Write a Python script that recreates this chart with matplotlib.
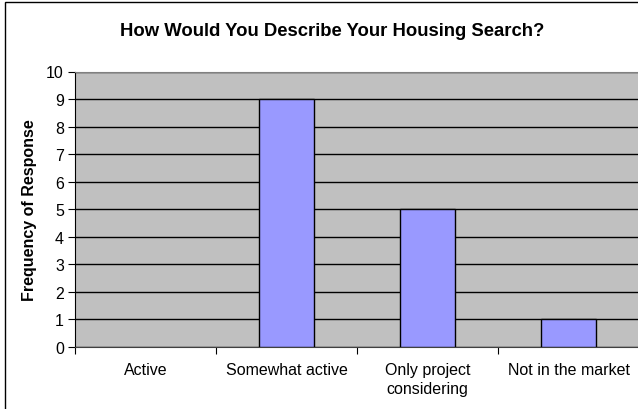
import matplotlib
matplotlib.use("Agg")
import matplotlib.pyplot as plt
from matplotlib.patches import Rectangle
import numpy as np

categories = ["Active", "Somewhat active", "Only project\nconsidering", "Not in the market"]
counts = [0, 9, 5, 1]
y_ticks = list(range(0, 11))

plt.rcParams['font.family'] = ['Liberation Sans', 'DejaVu Sans']

fig = plt.figure(figsize=(6.38, 4.10), dpi=100)
ax = fig.add_axes([75 / 638, 1 - 348 / 410, 564 / 638, (348 - 72.5) / 410])

x = np.arange(len(categories))
ax.set_facecolor("#C0C0C0")
ax.yaxis.grid(True, color="black", linewidth=1)
ax.set_axisbelow(True)
bars = ax.bar(x, counts, width=0.39, color="#9999FF", edgecolor="black", linewidth=1, zorder=3)
# Excel draws nothing for an empty bar
for bar, c in zip(bars, counts):
    if c == 0:
        bar.set_linewidth(0)

ax.set_xlim(-0.5, len(categories) - 0.5)
ax.set_ylim(0, 10)
ax.set_yticks(y_ticks)
ax.set_yticklabels([str(v) for v in y_ticks], fontsize=11.5)
ax.set_xticks(np.arange(len(categories) + 1) - 0.5)
ax.set_xticklabels([])
ax.set_xticks(x, minor=True)
ax.set_xticklabels(categories, minor=True, fontsize=11.5, linespacing=1.3)
ax.tick_params(axis="x", which="minor", length=0, pad=11)
ax.tick_params(axis="x", which="major", length=5, direction="out", color="black")
ax.tick_params(axis="y", length=5, direction="out", color="black", pad=3)

for side in ["top", "right"]:
    ax.spines[side].set_color("#808080")
ax.spines["left"].set_color("black")
ax.spines["bottom"].set_color("#404040")

fig.text(30 / 638, 1 - 210 / 410, "Frequency of Response", rotation=90,
         ha="center", va="center", fontsize=11.5, fontweight="bold")

fig.text(332 / 638, 1 - 36 / 410, "How Would You Describe Your Housing Search?",
         ha="center", va="baseline", fontsize=13.3, fontweight="bold")

fig.patches.append(Rectangle((5 / 638, -0.2), 1.2, 1.2 - 3 / 410, fill=False,
                             edgecolor="black", linewidth=1, transform=fig.transFigure))

fig.savefig("out.png", dpi=100)
